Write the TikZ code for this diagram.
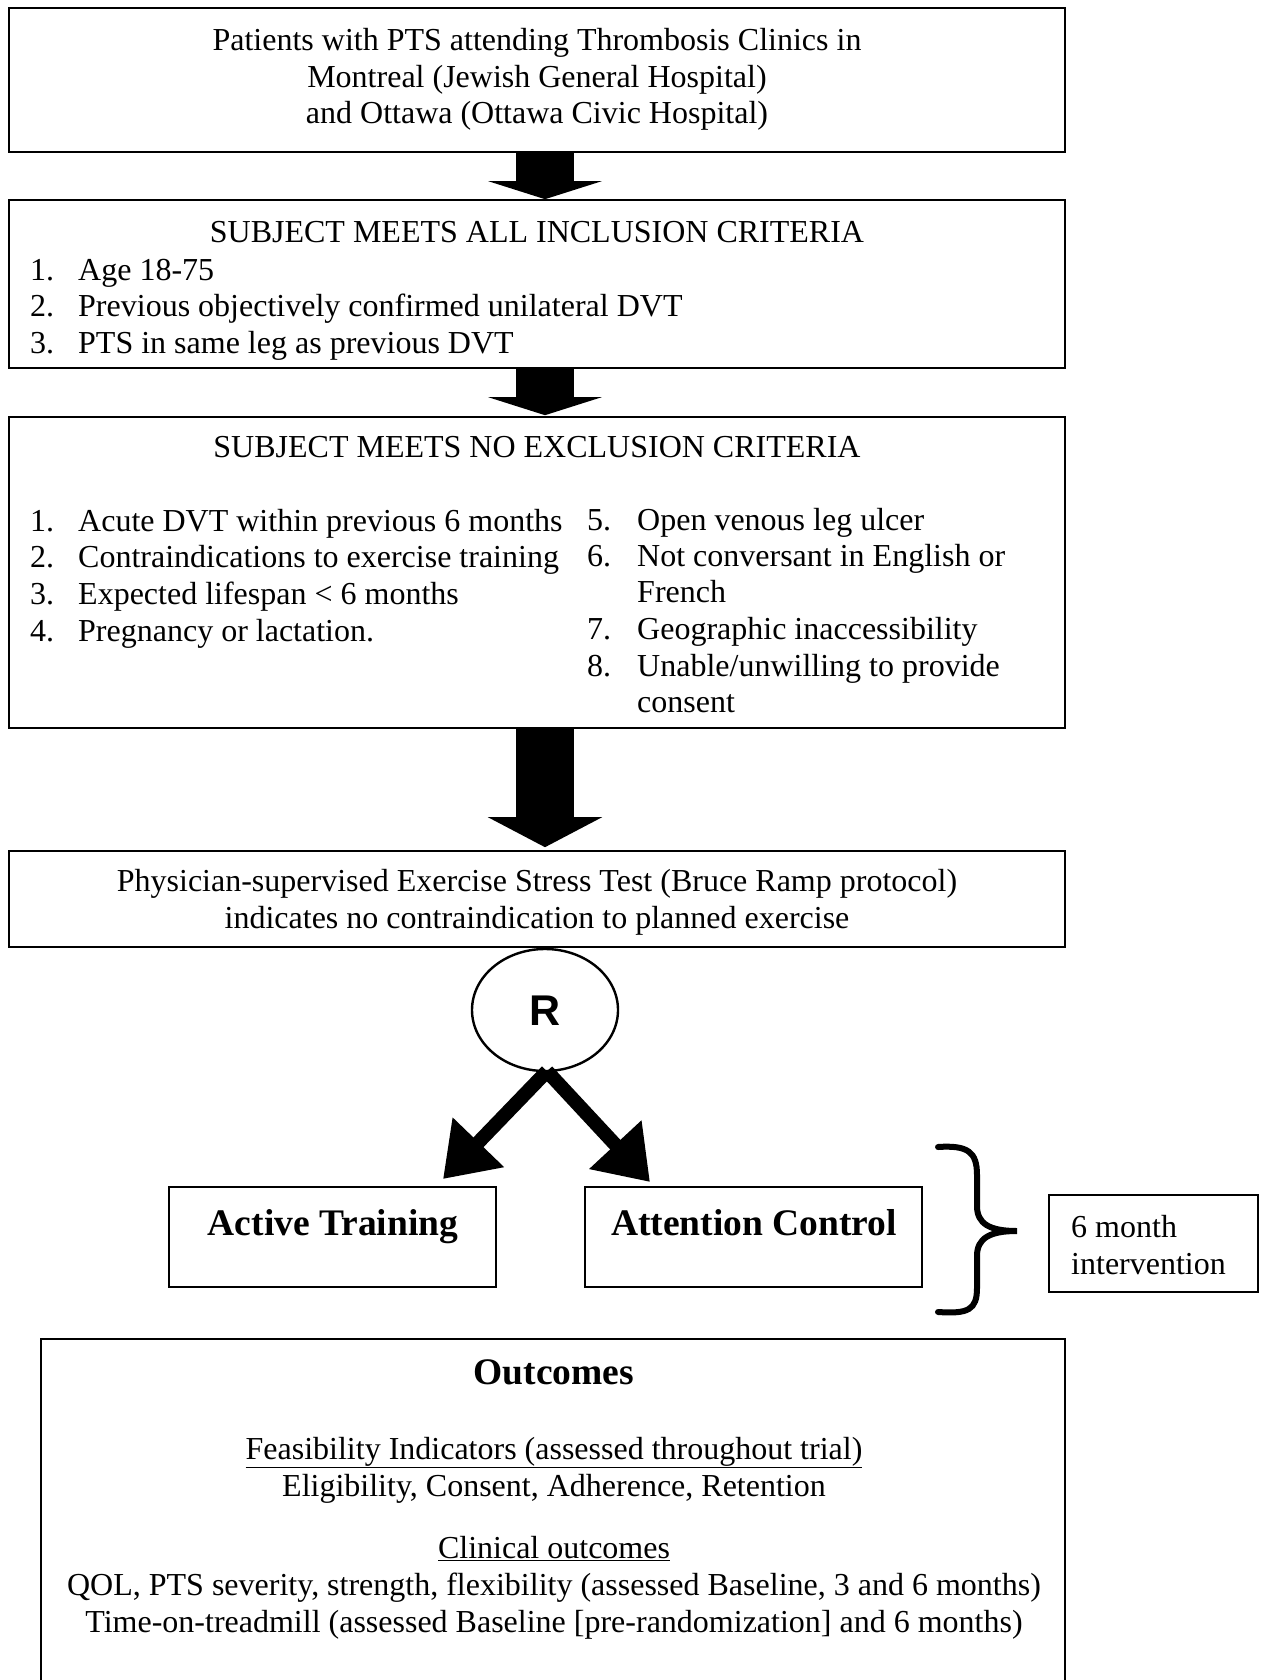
\documentclass[tikz,border=0pt]{standalone}
\usepackage{fontspec}
\setmainfont{Liberation Serif}
\newfontfamily\arialfont{Liberation Sans}
\usetikzlibrary{arrows.meta,shapes.geometric,calc}
\begin{document}
\begin{tikzpicture}[x=1pt,y=-1pt,
  box/.style={draw, line width=1.6pt, rectangle, inner sep=0pt},
  txt/.style={font=\fontsize{32}{36}\selectfont, inner sep=0pt, anchor=base},
  txtw/.style={txt, anchor=base west},
  bigtxt/.style={font=\fontsize{37.5}{40}\selectfont\bfseries, inner sep=0pt, anchor=base},
  bigarrow/.style={line width=58pt, -{Triangle[length=18pt,width=113pt]}},
  bigarrowlong/.style={line width=58pt, -{Triangle[length=30pt,width=113pt]}},
  diagarrow/.style={line width=14pt, -{Triangle[length=51pt,width=68pt]}}
]
\useasboundingbox (0,0) rectangle (1262,1680);
\fill[white] (0,0) rectangle (1262,1680);

% boxes
\node[box, minimum width=1056pt, minimum height=144pt] (b1) at (537,80) {};
\node[box, minimum width=1056pt, minimum height=168pt] (b2) at (537,284) {};
\node[box, minimum width=1056pt, minimum height=311pt] (b3) at (537,572.5) {};
\node[box, minimum width=1056pt, minimum height=96pt] (b4) at (537,899) {};
\node[draw, line width=2.4pt, ellipse, minimum width=146pt, minimum height=122pt, inner sep=0pt] (R) at (545,1010) {};
\node[font=\arialfont\fontsize{43}{43}\selectfont\bfseries, inner sep=0pt] (Rl) at (545,1011) {R};
\node[box, minimum width=327pt, minimum height=100pt] (act) at (332.5,1237) {};
\node[box, minimum width=337pt, minimum height=100pt] (att) at (753.5,1237) {};
\node[box, minimum width=209pt, minimum height=97pt] (six) at (1153.5,1243.5) {};
\node[box, minimum width=1024pt, minimum height=381pt] (out) at (553,1529.5) {};

% box 1 text
\node[txt] (t11) at (537,51) {Patients with PTS attending Thrombosis Clinics in};
\node[txt] (t12) at (537,87.5) {Montreal (Jewish General Hospital)};
\node[txt] (t13) at (537,124) {and Ottawa (Ottawa Civic Hospital)};

% box 2 text
\node[txt] (t20) at (537,243) {SUBJECT MEETS ALL INCLUSION CRITERIA};
\node[txtw] (n21) at (30,280) {1.};
\node[txtw] (t21) at (78,280) {Age 18-75};
\node[txtw] (n22) at (30,316.5) {2.};
\node[txtw] (t22) at (78,316.5) {Previous objectively confirmed unilateral DVT};
\node[txtw] (n23) at (30,353) {3.};
\node[txtw] (t23) at (78,353) {PTS in same leg as previous DVT};

% box 3 text
\node[txt] (t30) at (537,457) {SUBJECT MEETS NO EXCLUSION CRITERIA};
\node[txtw] (n31) at (30,531) {1.};
\node[txtw] (t31) at (78,531) {Acute DVT within previous 6 months};
\node[txtw] (n32) at (30,567) {2.};
\node[txtw] (t32) at (78,567) {Contraindications to exercise training};
\node[txtw] (n33) at (30,604) {3.};
\node[txtw] (t33) at (78,604) {Expected lifespan < 6 months};
\node[txtw] (n34) at (30,641.5) {4.};
\node[txtw] (t34) at (78,641.5) {Pregnancy or lactation.};
\node[txtw] (n35) at (587,530.5) {5.};
\node[txtw] (t35) at (637,530.5) {Open venous leg ulcer};
\node[txtw] (n36) at (587,566.5) {6.};
\node[txtw] (t36) at (637,566.5) {Not conversant in English or};
\node[txtw] (t36b) at (637,602.5) {French};
\node[txtw] (n37) at (587,639.5) {7.};
\node[txtw] (t37) at (637,639.5) {Geographic inaccessibility};
\node[txtw] (n38) at (587,676) {8.};
\node[txtw] (t38) at (637,676) {Unable/unwilling to provide};
\node[txtw] (t38b) at (637,712.5) {consent};

% box 4 text
\node[txt] (t41) at (537,891.5) {Physician-supervised Exercise Stress Test (Bruce Ramp protocol)};
\node[txt] (t42) at (537,928.5) {indicates no contraindication to planned exercise};

% arms
\node[bigtxt] (ta) at (333,1235) {Active Training};
\node[bigtxt] (tb) at (754,1235) {Attention Control};
\node[txtw] (ts1) at (1071,1237) {6 month};
\node[txtw] (ts2) at (1071,1274) {intervention};

% outcomes
\node[bigtxt] (to) at (554,1384) {Outcomes};
\node[txt] (to1) at (554,1459) {\underline{Feasibility Indicators (assessed throughout trial)}};
\node[txt] (to2) at (554,1496) {Eligibility, Consent, Adherence, Retention};
\node[txt] (to3) at (554,1558) {\underline{Clinical outcomes}};
\node[txt] (to4) at (554,1595.5) {QOL, PTS severity, strength, flexibility (assessed Baseline, 3 and 6 months)};
\node[txt] (to5) at (554,1632.5) {Time-on-treadmill (assessed Baseline [pre-randomization] and 6 months)};

% connectors
\draw[bigarrow] (b1.south -| R.center) -- (b2.north -| R.center);
\draw[bigarrow] (b2.south -| R.center) -- ($(b3.north -| R.center)+(0,-1)$);
\draw[bigarrowlong] (b3.south -| R.center) -- ($(b4.north -| R.center)+(0,-3)$);
\coordinate (tipl) at (443,1179);
\coordinate (tipr) at (650,1182);
\draw[diagarrow] ($(R.south)+(2,-1)$) -- (tipl);
\draw[diagarrow] ($(R.south)+(2,-1)$) -- (tipr);

% brace
\draw[line width=6pt, line cap=round]
  (938,1147) .. controls (968,1145) and (977,1152) .. (977,1175)
  -- (977,1206) .. controls (977,1224) and (990,1231) .. (1017,1231)
  .. controls (990,1231) and (977,1238) .. (977,1256)
  -- (977,1288) .. controls (977,1310) and (968,1314) .. (938,1312);
\end{tikzpicture}
\end{document}
